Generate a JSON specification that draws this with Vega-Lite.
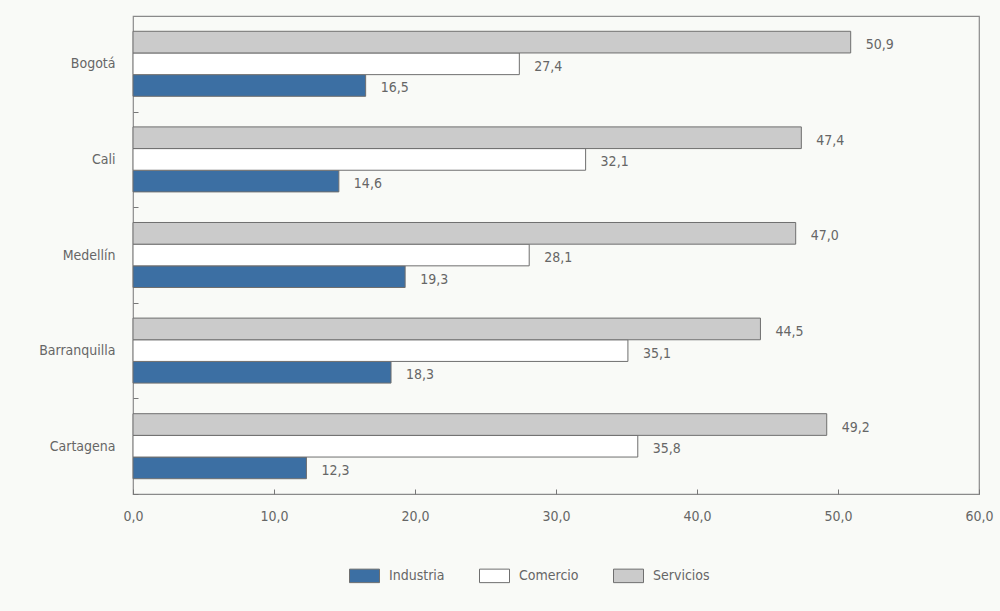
{
  "$schema": "https://vega.github.io/schema/vega-lite/v6.json",
  "width": 846,
  "height": 478,
  "autosize": {"type": "none"},
  "padding": {"left": 133, "top": 16, "right": 21, "bottom": 117},
  "background": "#f9faf7",
  "config": {
    "locale": {"number": {"decimal": ",", "thousands": ".", "grouping": [3], "currency": ["$", ""]}},
    "font": "DejaVu Sans Condensed, sans-serif",
    "view": {"stroke": "#8a8a8a", "strokeWidth": 1.2}
  },
  "data": {
    "values": [
      {"ciudad": "Bogotá", "sector": "Industria", "valor": 16.5},
      {"ciudad": "Bogotá", "sector": "Comercio", "valor": 27.4},
      {"ciudad": "Bogotá", "sector": "Servicios", "valor": 50.9},
      {"ciudad": "Cali", "sector": "Industria", "valor": 14.6},
      {"ciudad": "Cali", "sector": "Comercio", "valor": 32.1},
      {"ciudad": "Cali", "sector": "Servicios", "valor": 47.4},
      {"ciudad": "Medellín", "sector": "Industria", "valor": 19.3},
      {"ciudad": "Medellín", "sector": "Comercio", "valor": 28.1},
      {"ciudad": "Medellín", "sector": "Servicios", "valor": 47.0},
      {"ciudad": "Barranquilla", "sector": "Industria", "valor": 18.3},
      {"ciudad": "Barranquilla", "sector": "Comercio", "valor": 35.1},
      {"ciudad": "Barranquilla", "sector": "Servicios", "valor": 44.5},
      {"ciudad": "Cartagena", "sector": "Industria", "valor": 12.3},
      {"ciudad": "Cartagena", "sector": "Comercio", "valor": 35.8},
      {"ciudad": "Cartagena", "sector": "Servicios", "valor": 49.2}
    ]
  },
  "encoding": {
    "y": {
      "field": "ciudad", "type": "nominal",
      "sort": ["Bogotá", "Cali", "Medellín", "Barranquilla", "Cartagena"],
      "scale": {"paddingInner": 0.32, "paddingOuter": 0.16},
      "axis": {
        "title": null, "domain": false,
        "tickOffset": 47.8, "labelOffset": -47.8,
        "tickSize": -5, "tickColor": "#777", "labelPadding": 23,
        "labelFontSize": 14, "labelColor": "#666"
      }
    },
    "yOffset": {
      "field": "sector", "type": "nominal",
      "sort": ["Servicios", "Comercio", "Industria"],
      "scale": {"paddingInner": 0, "paddingOuter": 0}
    },
    "x": {
      "field": "valor", "type": "quantitative",
      "scale": {"domain": [0, 60], "nice": false},
      "axis": {
        "title": null, "grid": false, "domain": false, "values": [0, 10, 20, 30, 40, 50, 60],
        "format": ".1f", "tickSize": -5, "tickColor": "#777", "labelPadding": 20,
        "labelFontSize": 14, "labelColor": "#666", "labelFlush": false
      }
    }
  },
  "layer": [
    {
      "mark": {"type": "bar", "stroke": "#6f6f6f", "strokeWidth": 1},
      "encoding": {
        "color": {
          "field": "sector", "type": "nominal",
          "scale": {"domain": ["Industria", "Comercio", "Servicios"], "range": ["#3c6fa3", "#ffffff", "#cbcbcb"]},
          "legend": {
            "title": null, "orient": "none", "direction": "horizontal",
            "legendX": 216, "legendY": 544,
            "symbolType": "M-1,-0.45H1V0.45H-1Z", "symbolSize": 900,
            "symbolStrokeColor": "#6f6f6f", "symbolStrokeWidth": 1,
            "labelFontSize": 14, "labelColor": "#666", "labelOffset": 9, "columnPadding": 32
          }
        }
      }
    },
    {
      "mark": {"type": "text", "align": "left", "baseline": "middle", "dx": 15, "dy": 3, "fontSize": 14, "color": "#666"},
      "encoding": {
        "text": {"field": "valor", "type": "quantitative", "format": ".1f"}
      }
    }
  ]
}
